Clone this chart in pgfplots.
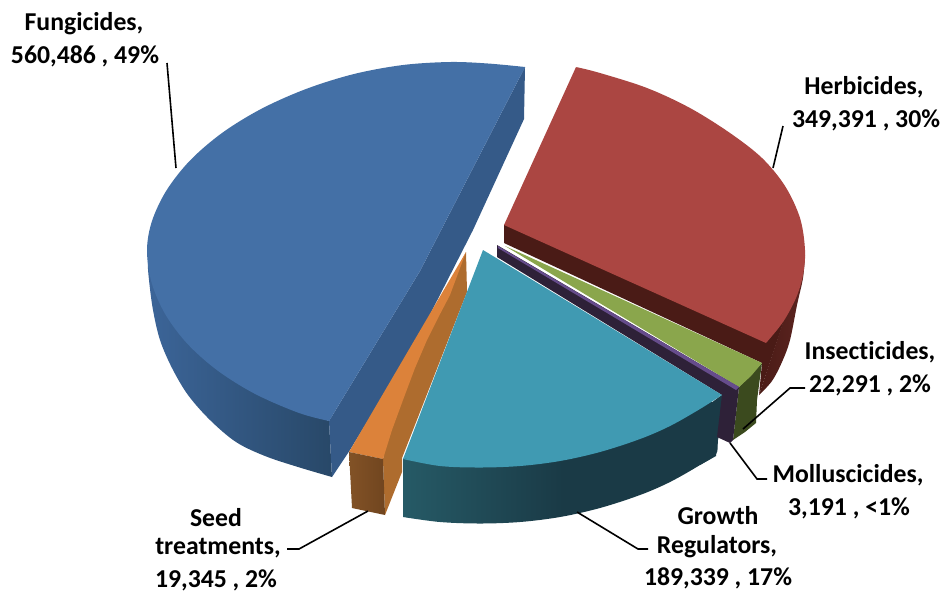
\documentclass[border=0pt]{standalone}
\usepackage{pgfplots}
\pgfplotsset{compat=1.18}
\usepackage{fontspec}
\setmainfont{Carlito}[Ligatures=NoCommon]
\definecolor{fungTop}{HTML}{4470A6}
\definecolor{fungCut}{HTML}{355A88}
\definecolor{fungRimA}{HTML}{3C6599}
\definecolor{fungRimB}{HTML}{284868}
\definecolor{herbTop}{HTML}{AB4642}
\definecolor{herbDark}{HTML}{4A1B16}
\definecolor{herbRim}{HTML}{5C2420}
\definecolor{insTop}{HTML}{8AA64C}
\definecolor{insSide}{HTML}{3B4A1E}
\definecolor{molTop}{HTML}{664C8C}
\definecolor{molSide}{HTML}{2E2138}
\definecolor{growTop}{HTML}{409AB2}
\definecolor{growA}{HTML}{265A66}
\definecolor{growB}{HTML}{1A3A46}
\definecolor{seedTop}{HTML}{DC823A}
\definecolor{seedSide}{HTML}{AE6C2E}
\definecolor{seedA}{HTML}{825226}
\definecolor{seedB}{HTML}{70451F}
\pgfplotsset{
  curved/.style={draw=none, smooth, tension=0.55},
  flat/.style={draw=none, sharp plot},
  leader/.style={black, line width=1.2pt, sharp plot}
}
\newcommand{\lab}[3]{\node[font=\fontsize{19.3}{22}\selectfont\bfseries,text=black,inner sep=0pt,anchor=center] at (axis cs:#1,#2) {#3};}
\begin{document}
\begin{tikzpicture}
\begin{axis}[
  scale only axis, width=708pt, height=445.5pt,
  xmin=0, xmax=944, ymin=0, ymax=594, y dir=reverse,
  hide axis, clip=false, no markers
]
% Page extent
\path (axis cs:0,0) (axis cs:944,594);
% Fungicides: outer rim, cut face, top face
\addplot[curved, left color=fungRimA, right color=fungRimB] coordinates {
 (332,477) (298,467) (265,456) (236,442) (210,420) (188,395) (172,368) (160,340) (153,310) (149,280) (148,262) (152,250)
 (190,270) (260,380) (329,421)};
\addplot[flat, fill=fungCut] coordinates {
 (525,67) (524,119) (473,230) (417,340) (350,450) (332,477) (329,421) (420,271)};
\addplot[curved, fill=fungTop] coordinates {
 (525,67) (488,63.5) (450,62) (403,65) (354,74) (306,89) (261,109) (222,133) (190,160.5) (166.5,190.4) (152,221) (147,250)
 (151.6,282.6) (165.3,314.3) (187.6,344) (217.9,370.8) (255.2,394) (298.5,412.8) (329,421)};
\addplot[flat, fill=fungTop] coordinates {(525,67) (420,271) (329,421) (300,250)};
% Herbicides
\addplot[flat, fill=herbDark] coordinates {(504,225) (805,257) (759,395) (762,363) (504,243)};
\addplot[curved, left color=herbDark, right color=herbRim] coordinates {
 (805,255) (803,278) (797,305) (790,340) (782,362) (772,381) (759,395)};
\addplot[curved, fill=herbTop] coordinates {
 (576,67) (600,73) (647,88) (690,108) (730,133) (762,158) (785,186) (800,218) (805,250) (803,275) (796,298) (783,322) (766,343)};
\addplot[flat, fill=herbTop] coordinates {(576,67) (700,200) (766,343) (504,225)};
% Growth regulators rim, covered at its right end by the molluscicide slice
\addplot[curved, left color=growA, right color=growB, middle color=growB] coordinates {
 (403,517) (440,522) (480,523.5) (520,522) (560,517) (600,508) (640,495) (670,482) (700,465) (716,454) (718,440) (722,415) (712,402) (690,405) (600,440) (500,450) (440,445) (403,459)};
\addplot[flat, fill=growB] coordinates {(700,465) (716,456) (723,394) (695,415)};
% Insecticides
\addplot[flat, fill=insSide] coordinates {
 (762,363) (759,385) (757,400) (756,423) (745,432) (733,440) (739,387)};
\addplot[flat, fill=insTop] coordinates {
 (505,246) (762,363) (751,376) (739,387)};
% Molluscicides
\addplot[flat, fill=molSide] coordinates {
 (497,245) (497,257) (722,395) (717,437) (730,443) (733,440) (739,387)};
\addplot[flat, fill=molTop] coordinates {
 (498,246) (739,387) (736,390) (498,248)};
% Seed treatments
\addplot[flat, fill=seedSide] coordinates {
 (466,252) (467,292) (402,458) (402,472) (385,515) (383,459) (395,400) (420,340) (445,295)};
\addplot[flat, fill=seedTop] coordinates {
 (466,252) (349,452) (383,459) (392,430) (403,400) (415,368) (427,340) (438,318) (450,295)};
\addplot[flat, left color=seedA, right color=seedB] coordinates {
 (349,452) (383,459) (385,515) (352,508)};
% Growth regulators top face
\addplot[curved, fill=growTop] coordinates {
 (722,395) (700,409) (670,426) (640,439) (600,452) (560,461) (520,466) (480,467.5) (440,466) (403,459)};
\addplot[flat, fill=growTop] coordinates {(483,250) (722,395) (560,440) (403,459)};
% Leader lines
\addplot[leader] coordinates {(167,63) (176,168)};
\addplot[leader] coordinates {(783,126) (773,168)};
\addplot[leader] coordinates {(743,429) (790,388) (805,388)};
\addplot[leader] coordinates {(730,443) (757,479) (767,479)};
\addplot[leader] coordinates {(577,512) (638,549) (648,549)};
\addplot[leader] coordinates {(368,511) (299,549) (287,549)};
% Data labels
\lab{84}{24}{Fungicides,}
\lab{85}{56}{560,486 , 49\%}
\lab{864}{87}{Herbicides,}
\lab{866}{120}{349,391 , 30\%}
\lab{870}{352}{Insecticides,}
\lab{870}{385}{22,291 , 2\%}
\lab{848}{475}{Molluscicides,}
\lab{849}{508}{3,191 , <1\%}
\lab{718}{516}{Growth}
\lab{717}{547}{Regulators,}
\lab{718}{578}{189,339 , 17\%}
\lab{216}{518}{Seed}
\lab{218}{548}{treatments,}
\lab{216}{580}{19,345 , 2\%}
\end{axis}
\end{tikzpicture}
\end{document}
